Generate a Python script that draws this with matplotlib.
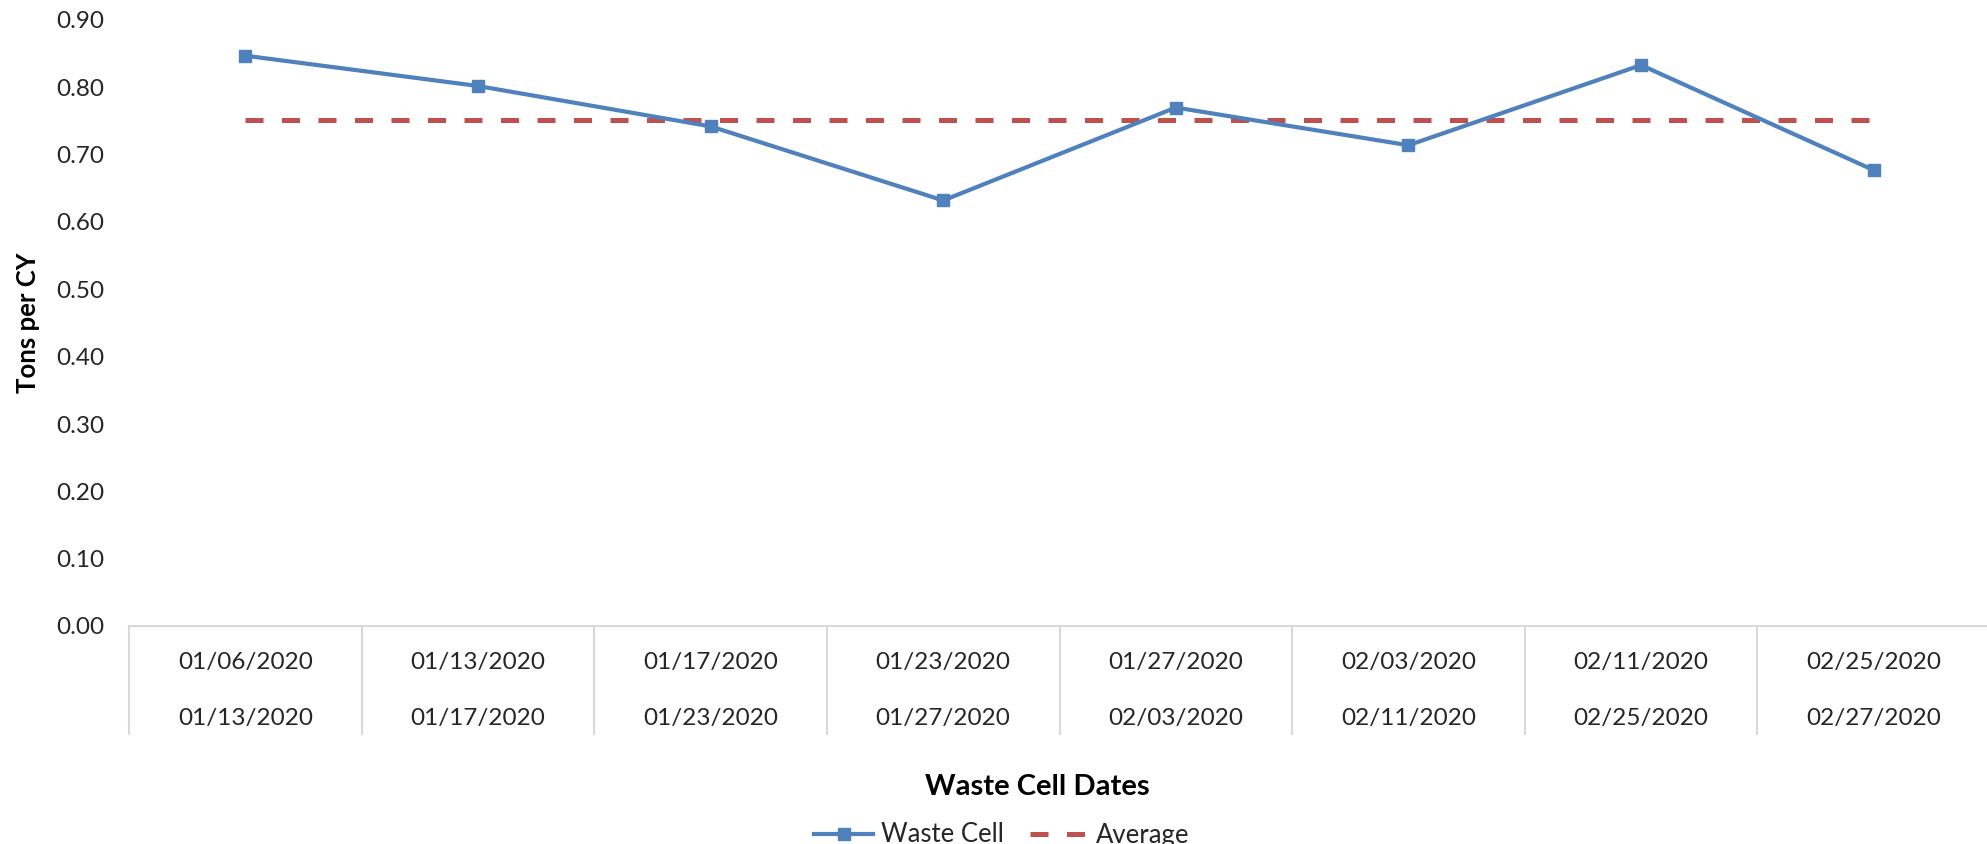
import numpy as np
import matplotlib
matplotlib.use("Agg")
import matplotlib.pyplot as plt
from matplotlib import transforms

plt.rcParams['font.family'] = ['Lato', 'DejaVu Sans']

# Waste cell periods (start / end dates) and density values
period_start = ["01/06/2020", "01/13/2020", "01/17/2020", "01/23/2020",
                "01/27/2020", "02/03/2020", "02/11/2020", "02/25/2020"]
period_end = ["01/13/2020", "01/17/2020", "01/23/2020", "01/27/2020",
              "02/03/2020", "02/11/2020", "02/25/2020", "02/27/2020"]
tons_per_cy = [0.847, 0.802, 0.742, 0.632, 0.770, 0.714, 0.833, 0.677]
average_value = float(np.mean(tons_per_cy))

y_ticks = [0.0, 0.1, 0.2, 0.3, 0.4, 0.5, 0.6, 0.7, 0.8, 0.9]

W, H = 1987, 844
fig = plt.figure(figsize=(W / 100, H / 100), dpi=100)

left, right, top, bottom = 129, 1990, 20, 626
ax = fig.add_axes([left / W, 1 - bottom / H, (right - left) / W, (bottom - top) / H])

blue = "#4F81BD"
red = "#C0504D"
grey = "#D9D9D9"
txt = "#262626"

x = np.arange(len(tons_per_cy))
ax.plot(x, tons_per_cy, color=blue, lw=3.0, marker="s", ms=8.5,
        label="Waste Cell", zorder=3)
ax.plot(x, [average_value] * len(x), color=red, lw=3.6, ls=(0, (3.6, 3.7)),
        dash_capstyle="butt", label="Average", zorder=2)

ax.set_xlim(-0.5, len(x) - 0.5)
ax.set_ylim(0, 0.9)

for s in ["top", "right", "left"]:
    ax.spines[s].set_visible(False)
ax.spines["bottom"].set_color(grey)
ax.spines["bottom"].set_linewidth(1.5)

ax.set_yticks(y_ticks)
ax.set_yticklabels([f"{v:.2f}" for v in y_ticks], fontsize=17.5, color=txt)
ax.tick_params(axis="y", length=0, pad=18)

# category separators below the axis
ax.set_xticks(np.arange(-0.5, len(x), 1.0))
ax.set_xticklabels([])
ax.tick_params(axis="x", direction="out", length=78.5, width=1.5, color=grey)

tr = transforms.blended_transform_factory(ax.transData, fig.transFigure)
for i, (a, b) in enumerate(zip(period_start, period_end)):
    ax.text(i, 1 - 663 / H, a, transform=tr, ha="center", va="center",
            fontsize=17.5, color=txt)
    ax.text(i, 1 - 718 / H, b, transform=tr, ha="center", va="center",
            fontsize=17.5, color=txt)

fig.text(28 / W, 1 - 323 / H, "Tons per CY", rotation=90, ha="center",
         va="center", fontsize=18.5, fontweight="bold", color="black")
fig.text(1037 / W, 1 - 787 / H, "Waste Cell Dates", ha="center", va="center",
         fontsize=21, fontweight="bold", color="black")

leg = fig.legend(loc="center", bbox_to_anchor=(1002 / W, 1 - 835 / H), ncol=2,
                 frameon=False, fontsize=18.5, handlelength=2.3,
                 handletextpad=0.3, columnspacing=1.0, borderpad=0)
for t in leg.get_texts():
    t.set_color(txt)

fig.savefig("out.png", dpi=100, facecolor="white")
